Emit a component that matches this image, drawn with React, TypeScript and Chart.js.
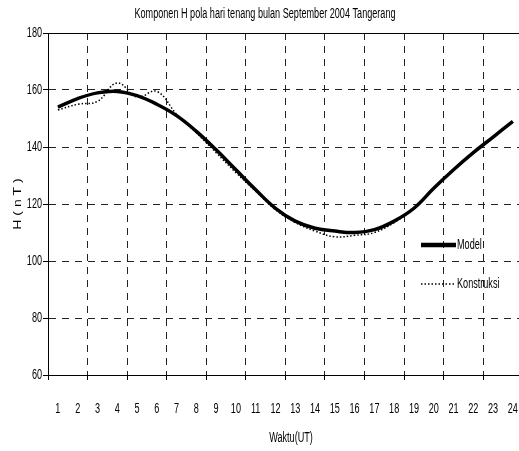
import React, { useEffect, useRef } from "react";
import { Chart, registerables } from "chart.js";

Chart.register(...registerables);

const hours = [1, 2, 3, 4, 5, 6, 7, 8, 9, 10, 11, 12, 13, 14, 15, 16, 17, 18, 19, 20, 21, 22, 23, 24];
const modelValues = [154, 157, 159, 159.5, 158, 155, 151, 145.5, 139, 132, 125, 118.5, 114, 111.5, 110.5, 110, 111, 114, 118.5, 125.5, 132, 138, 143.5, 149];
const konstruksiValues = [153, 155, 156, 162.5, 157.5, 159.5, 151.5, 145, 138, 131, 124.5, 118, 113.5, 110.5, 108.5, 109, 110, 113.5, 118.5, 125.5, 132, 138, 143.5, 149];
const yTicks = [60, 80, 100, 120, 140, 160, 180];
const gridPositions = [2.5, 4.5, 6.5, 8.5, 10.5, 12.5, 14.5, 16.5, 18.5, 20.5, 22.5];

const TITLE = "Komponen H pola hari tenang bulan September 2004 Tangerang";
const X_TITLE = "Waktu(UT)";
const Y_TITLE = "H ( n T )";
const FONT = "14px 'Liberation Sans', Arial, sans-serif";
const SX = 0.65;

function narrowText(ctx: CanvasRenderingContext2D, text: string, x: number, y: number, align: CanvasTextAlign) {
  ctx.save();
  ctx.translate(x, y);
  ctx.scale(SX, 1);
  ctx.font = FONT;
  ctx.fillStyle = "#000";
  ctx.textAlign = align;
  ctx.textBaseline = "middle";
  ctx.fillText(text, 0, 0);
  ctx.restore();
}

const overlayPlugin = {
  id: "overlay",
  afterDraw(chart: any) {
    const { ctx, chartArea, scales } = chart;
    ctx.save();
    ctx.strokeStyle = "#000";
    ctx.lineWidth = 1;
    ctx.setLineDash([]);
    ctx.beginPath();
    ctx.moveTo(chartArea.left, chartArea.top + 0.5);
    ctx.lineTo(chartArea.right, chartArea.top + 0.5);
    ctx.stroke();
    ctx.restore();

    narrowText(ctx, TITLE, 265, 14, "center");
    yTicks.forEach((v) => {
      narrowText(ctx, String(v), 42, scales.y.getPixelForValue(v), "right");
    });
    hours.forEach((h) => {
      narrowText(ctx, String(h), scales.x.getPixelForValue(h), 409, "center");
    });
    narrowText(ctx, X_TITLE, 291, 438, "center");

    ctx.save();
    ctx.translate(18, (chartArea.top + chartArea.bottom) / 2);
    ctx.rotate(-Math.PI / 2);
    ctx.scale(1, 0.75);
    ctx.font = FONT;
    ctx.fillStyle = "#000";
    ctx.textAlign = "center";
    ctx.textBaseline = "middle";
    ctx.fillText(Y_TITLE, 0, 0);
    ctx.restore();

    const items = [
      { label: "Model", y: 245, width: 4.5, dash: [] as number[] },
      { label: "Konstruksi", y: 284, width: 1.5, dash: [1.5, 2] },
    ];
    items.forEach((it) => {
      ctx.save();
      ctx.beginPath();
      ctx.lineWidth = it.width;
      ctx.setLineDash(it.dash);
      ctx.strokeStyle = "#000";
      ctx.moveTo(421, it.y);
      ctx.lineTo(456, it.y);
      ctx.stroke();
      ctx.restore();
      narrowText(ctx, it.label, 457, it.y, "left");
    });
  },
};

export default function App() {
  const ref = useRef<HTMLCanvasElement | null>(null);
  useEffect(() => {
    if (!ref.current) return;
    const isGrid = (v: number) => gridPositions.includes(v);
    const chart = new Chart(ref.current, {
      type: "line",
      data: {
        datasets: [
          {
            label: "Konstruksi",
            data: hours.map((h, i) => ({ x: h, y: konstruksiValues[i] })),
            borderColor: "#000",
            borderWidth: 1.5,
            borderDash: [1.5, 2],
            pointRadius: 0,
            tension: 0.4,
            fill: false,
          },
          {
            label: "Model",
            data: hours.map((h, i) => ({ x: h, y: modelValues[i] })),
            borderColor: "#000",
            borderWidth: 3.5,
            pointRadius: 0,
            tension: 0.4,
            fill: false,
          },
        ],
      },
      options: {
        animation: false,
        responsive: false,
        layout: { padding: { top: 33, right: 0, left: 0, bottom: 0 } },
        plugins: { legend: { display: false }, tooltip: { enabled: false }, title: { display: false } },
        scales: {
          x: {
            type: "linear",
            min: 0.5,
            max: 24.31,
            afterBuildTicks: (scale: any) => {
              scale.ticks = [0.5, ...gridPositions].map((v) => ({ value: v }));
            },
            afterFit: (scale: any) => {
              scale.height = 76;
            },
            ticks: { display: false },
            grid: {
              color: (c: any) => (c.tick && isGrid(c.tick.value) ? "#222" : "transparent"),
              tickColor: "#000",
              tickLength: 5,
              lineWidth: 1,
            },
            border: { display: true, color: "#000", width: 1, dash: [7, 6] },
            title: { display: false },
          },
          y: {
            type: "linear",
            min: 60,
            max: 180,
            afterBuildTicks: (scale: any) => {
              scale.ticks = yTicks.map((v) => ({ value: v }));
            },
            afterFit: (scale: any) => {
              scale.width = 48;
            },
            ticks: { display: false },
            grid: {
              color: (c: any) => (c.tick && (c.tick.value === 60 || c.tick.value === 180) ? "transparent" : "#222"),
              tickColor: "#000",
              tickLength: 5,
              lineWidth: 1,
            },
            border: { display: true, color: "#000", width: 1, dash: [7, 6] },
            title: { display: false },
          },
        },
      } as any,
      plugins: [overlayPlugin],
    });
    return () => chart.destroy();
  }, []);
  return (
    <div style={{ position: "absolute", left: 0, top: 0, width: 519, height: 451, background: "#fff" }}>
      <canvas ref={ref} width={519} height={451} style={{ display: "block" }} />
    </div>
  );
}
